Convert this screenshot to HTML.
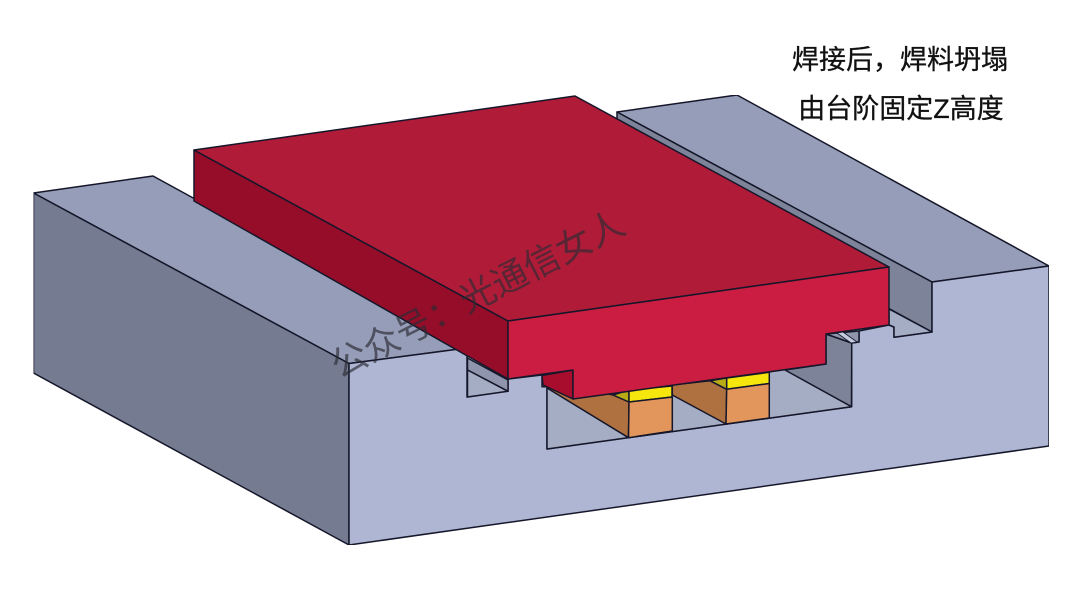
<!DOCTYPE html>
<html>
<head>
<meta charset="utf-8">
<style>
html,body{margin:0;padding:0;background:#fff;}
svg{display:block;}
text{font-family:"Liberation Sans","Noto Sans CJK SC",sans-serif;}
</style>
</head>
<body>
<svg width="1080" height="608" viewBox="0 0 1080 608" xmlns="http://www.w3.org/2000/svg">
<defs><filter id="soft" x="0" y="0" width="100%" height="100%"><feGaussianBlur stdDeviation="0.35"/></filter></defs>
<rect width="1080" height="608" fill="#fff"/>
<g stroke="#14182a" stroke-width="1.5" stroke-linejoin="round" filter="url(#soft)">
  <!-- right block top and inner wall -->
  <polygon points="617,112 737,95 1049,266 932,282" fill="#959db8"/>
  <polygon points="617,112 932,282 932,332 800,260 617,160" fill="#7d8499"/>
  <!-- left block -->
  <polygon points="33.5,193 153,176 467,348 349,363.5" fill="#959db8"/>
  <polygon points="33.5,193 349,363.5 349,545 33.5,373" fill="#757c92"/>
  <!-- main front face -->
  <polygon points="349,363.5 467,348 467,397 508,391 508,379 542,375 542,386.7 547,386.7 547,449 851.5,406.7 851.5,343 859,342 859,331 889,325 894,327 894,337.3 932,332 932,282 1049,266 1049,446 349,545" fill="#aeb6d3"/>
  <!-- left slot -->
  <polygon points="467.5,358 508,380 508,391.3 467.5,370" fill="#8e95ac"/>
  <polygon points="467.5,370 508,391.3 467.5,397" fill="#a5adc5"/>
  <!-- right slot floor -->
  <polygon points="889,309 932,332 894,337.3 894,327 889,325" fill="#a5adc5"/>
  <!-- cavity -->
  <polygon points="547,386 785,360 851.5,343 851.5,406.7 547,449" fill="#a5adc5"/>
  <polygon points="785,370 826,364 826,334 851.7,343 851.5,406.7" fill="#7d8499"/>
  <polygon points="826,334 837,333 859,331 859,342 851.7,343" fill="#8e95ac"/>
  <polygon points="837,333 843,332 857,342 851,343" fill="#c5cbde" stroke-width="0.8"/>
  <!-- left pad -->
  <polygon points="547,388 565,385 613,395 629,402 628.5,437.7" fill="#b0713f"/>
  <polygon points="613,395 629,390 629,402" fill="#b8ac17"/>
  <polygon points="629,390 672,386 672,397 629,402" fill="#f5e60f"/>
  <polygon points="629,402 672.3,397 672.3,431 628.5,437.7" fill="#e2965c"/>
  <!-- right pad -->
  <polygon points="672.3,385 710,380.7 726.7,389.3 726,424 672.3,395" fill="#b0713f"/>
  <polygon points="710,380.7 726.7,378 726.7,389.3" fill="#b8ac17"/>
  <polygon points="726.7,378 769.3,372.3 769.3,383.5 726.7,389.3" fill="#f5e60f"/>
  <polygon points="726.7,389.3 769.3,383.5 769.3,418 726,424" fill="#e2965c"/>
  <!-- red body -->
  <polygon points="194,150 508,321 508,379 194,201" fill="#960f2b"/>
  <polygon points="542,375.5 573,370 573,399 543,385" fill="#a80f2f"/>
  <polygon points="194,150 575,96 889,267 508,321" fill="#b01a38"/>
  <polygon points="508,321 889,267 889,325 826,334 826,364 573,399 573,370 508,379" fill="#cb1e42"/>
</g>
<!-- Watermark -->
<text x="0" y="0" transform="translate(339,379) rotate(-27)" font-size="36" fill="#2b2b33" fill-opacity="0.66">公众号：光通信女人</text>
<!-- Labels -->
<text x="900" y="69" font-size="27" text-anchor="middle" fill="#111" stroke="#111" stroke-width="0.3">焊接后，焊料坍塌</text>
<text x="901" y="118" font-size="27" text-anchor="middle" fill="#111" stroke="#111" stroke-width="0.3">由台阶固定Z高度</text>
</svg>
</body>
</html>
